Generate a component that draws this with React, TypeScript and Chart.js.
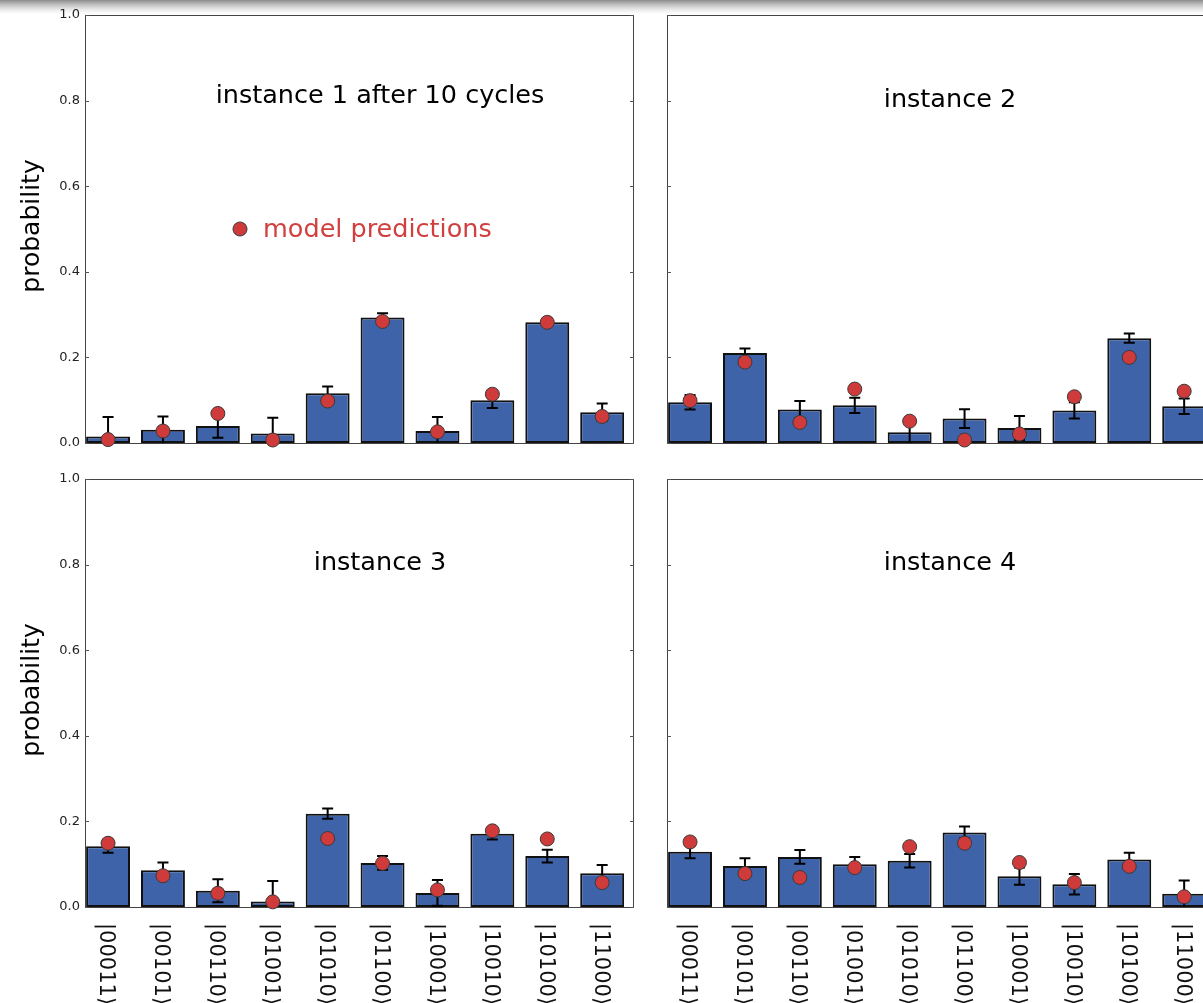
import React, { useEffect, useRef } from 'react';
import { Chart, registerables } from 'chart.js';

Chart.register(...registerables);

// ---------- data ----------
const basisStates = ['|00011⟩', '|00101⟩', '|00110⟩', '|01001⟩', '|01010⟩', '|01100⟩', '|10001⟩', '|10010⟩', '|10100⟩', '|11000⟩'];
const yTickValues = [0, 0.2, 0.4, 0.6, 0.8, 1.0];

const instance1Measured = [0.015, 0.031, 0.040, 0.022, 0.116, 0.293, 0.028, 0.100, 0.282, 0.072];
const instance1Error = [0.046, 0.031, 0.028, 0.037, 0.016, 0.010, 0.033, 0.018, 0.006, 0.020];
const instance1Model = [0.008, 0.028, 0.069, 0.007, 0.098, 0.284, 0.026, 0.114, 0.282, 0.062];

const instance2Measured = [0.095, 0.210, 0.078, 0.088, 0.025, 0.057, 0.035, 0.076, 0.245, 0.086];
const instance2Error = [0.017, 0.011, 0.020, 0.018, 0.025, 0.022, 0.028, 0.019, 0.011, 0.018];
const instance2Model = [0.099, 0.189, 0.048, 0.126, 0.051, 0.007, 0.021, 0.108, 0.200, 0.121];

const instance3Measured = [0.142, 0.086, 0.038, 0.013, 0.218, 0.103, 0.033, 0.171, 0.119, 0.079];
const instance3Error = [0.015, 0.018, 0.027, 0.048, 0.012, 0.016, 0.030, 0.013, 0.015, 0.019];
const instance3Model = [0.149, 0.073, 0.032, 0.012, 0.160, 0.102, 0.040, 0.178, 0.159, 0.057];

const instance4Measured = [0.129, 0.096, 0.117, 0.100, 0.108, 0.174, 0.072, 0.053, 0.111, 0.031];
const instance4Error = [0.015, 0.018, 0.016, 0.017, 0.016, 0.014, 0.020, 0.024, 0.016, 0.031];
const instance4Model = [0.152, 0.078, 0.069, 0.092, 0.141, 0.149, 0.104, 0.057, 0.095, 0.024];

const panelTitles = ['instance 1 after 10 cycles', 'instance 2', 'instance 3', 'instance 4'];
const yAxisTitle = 'probability';
const legendLabel = 'model predictions';

// ---------- styles ----------
const FONT = "'DejaVu Sans', 'Noto Sans', sans-serif";
const BAR_FILL = '#3f63a9';
const BAR_EDGE = '#111111';
const DOT_FILL = '#cf3a3a';
const DOT_EDGE = '#3a3a3a';
const LEGEND_RED = '#d23f3f';
const SPINE = '#444444';

interface PanelSpec {
  title: string;
  measured: number[];
  error: number[];
  model: number[];
  left: number;
  top: number;
  width: number;
  height: number;
  pad: { left: number; top: number; right: number; bottom: number };
  yAxis: boolean;
  xLabels: boolean;
  legend: boolean;
  titleX: number;
  titleY: number;
}

const panels: PanelSpec[] = [
  {
    title: panelTitles[0], measured: instance1Measured, error: instance1Error, model: instance1Model,
    left: 0, top: 0, width: 650, height: 460,
    pad: { left: 0, top: 15, right: 16, bottom: 17 },
    yAxis: true, xLabels: false, legend: true, titleX: 380, titleY: 103,
  },
  {
    title: panelTitles[1], measured: instance2Measured, error: instance2Error, model: instance2Model,
    left: 650, top: 0, width: 600, height: 460,
    pad: { left: 17, top: 15, right: 34, bottom: 17 },
    yAxis: false, xLabels: false, legend: false, titleX: 300, titleY: 107,
  },
  {
    title: panelTitles[2], measured: instance3Measured, error: instance3Error, model: instance3Model,
    left: 0, top: 464, width: 650, height: 539,
    pad: { left: 0, top: 15, right: 16, bottom: 96 },
    yAxis: true, xLabels: true, legend: false, titleX: 380, titleY: 106,
  },
  {
    title: panelTitles[3], measured: instance4Measured, error: instance4Error, model: instance4Model,
    left: 650, top: 464, width: 600, height: 539,
    pad: { left: 17, top: 15, right: 34, bottom: 96 },
    yAxis: false, xLabels: true, legend: false, titleX: 300, titleY: 106,
  },
];

function makePlugin(spec: PanelSpec) {
  return {
    id: 'panelDecor',
    beforeDatasetsDraw(chart: any) {
      const { ctx, chartArea } = chart;
      const y = chart.scales.y;
      ctx.save();
      ctx.strokeStyle = SPINE;
      ctx.lineWidth = 1;
      ctx.strokeRect(chartArea.left + 0.5, chartArea.top + 0.5, chartArea.right - chartArea.left - 1, chartArea.bottom - chartArea.top);
      ctx.strokeStyle = '#555';
      ctx.beginPath();
      yTickValues.forEach((v) => {
        const py = Math.round(y.getPixelForValue(v)) + 0.5;
        ctx.moveTo(chartArea.left, py);
        ctx.lineTo(chartArea.left + 4, py);
        ctx.moveTo(chartArea.right - 4, py);
        ctx.lineTo(chartArea.right, py);
      });
      ctx.stroke();
      ctx.restore();
    },
    afterDatasetDraw(chart: any, args: any) {
      if (args.meta.type !== 'bar') return;
      const { ctx } = chart;
      const xs = chart.scales.x;
      const ys = chart.scales.y;
      ctx.save();
      ctx.strokeStyle = '#000';
      ctx.lineWidth = 2;
      spec.measured.forEach((v, i) => {
        const e = spec.error[i];
        const px = xs.getPixelForValue(i);
        const yt = ys.getPixelForValue(v + e);
        const yb = ys.getPixelForValue(Math.max(0, v - e));
        ctx.beginPath();
        ctx.moveTo(px, yt);
        ctx.lineTo(px, yb);
        ctx.moveTo(px - 5.5, yt);
        ctx.lineTo(px + 5.5, yt);
        if (v - e > 0) {
          ctx.moveTo(px - 5.5, yb);
          ctx.lineTo(px + 5.5, yb);
        }
        ctx.stroke();
      });
      ctx.restore();
    },
    afterDraw(chart: any) {
      const { ctx, chartArea } = chart;
      const xs = chart.scales.x;
      ctx.save();
      // title
      ctx.fillStyle = '#000';
      ctx.font = `25.5px ${FONT}`;
      ctx.textAlign = 'center';
      ctx.textBaseline = 'alphabetic';
      ctx.fillText(spec.title, spec.titleX, spec.titleY);
      // legend
      if (spec.legend) {
        ctx.beginPath();
        ctx.arc(240, 229, 7, 0, Math.PI * 2);
        ctx.fillStyle = DOT_FILL;
        ctx.fill();
        ctx.strokeStyle = DOT_EDGE;
        ctx.lineWidth = 1;
        ctx.stroke();
        ctx.fillStyle = LEGEND_RED;
        ctx.textAlign = 'left';
        ctx.fillText(legendLabel, 263, 237);
      }
      // y title
      if (spec.yAxis) {
        ctx.save();
        ctx.translate(39, (chartArea.top + chartArea.bottom) / 2 - 3);
        ctx.rotate(-Math.PI / 2);
        ctx.fillStyle = '#000';
        ctx.font = `25px ${FONT}`;
        ctx.textAlign = 'center';
        ctx.textBaseline = 'alphabetic';
        ctx.fillText(yAxisTitle, 0, 0);
        ctx.restore();
      }
      // x labels (rotated clockwise)
      if (spec.xLabels) {
        ctx.fillStyle = '#111';
        ctx.font = `21px ${FONT}`;
        basisStates.forEach((lab, i) => {
          const px = xs.getPixelForValue(i);
          ctx.save();
          ctx.translate(px - 7.6, chartArea.bottom + 16);
          ctx.rotate(Math.PI / 2);
          ctx.textAlign = 'left';
          ctx.textBaseline = 'alphabetic';
          ctx.fillText(lab, 0, 0);
          ctx.restore();
        });
      }
      ctx.restore();
    },
  };
}

function Panel({ spec }: { spec: PanelSpec }) {
  const ref = useRef<HTMLCanvasElement | null>(null);
  useEffect(() => {
    if (!ref.current) return;
    const chart = new Chart(ref.current, {
      type: 'bar',
      data: {
        datasets: [
          {
            type: 'bar',
            order: 1,
            data: spec.measured.map((v, i) => ({ x: i, y: v })),
            backgroundColor: BAR_FILL,
            borderColor: BAR_EDGE,
            borderWidth: 2,
            borderSkipped: false,
            categoryPercentage: 0.8,
            barPercentage: 1.0,
          } as any,
          {
            type: 'scatter',
            order: 0,
            data: spec.model.map((v, i) => ({ x: i, y: v })),
            pointRadius: 7,
            pointBackgroundColor: DOT_FILL,
            pointBorderColor: DOT_EDGE,
            pointBorderWidth: 1,
            clip: false,
          } as any,
        ],
      },
      options: {
        responsive: false,
        animation: false,
        events: [],
        layout: { padding: spec.pad },
        plugins: { legend: { display: false }, tooltip: { enabled: false } },
        scales: {
          x: {
            type: 'linear',
            min: -0.42,
            max: 9.58,
            offset: false,
            display: false,
          },
          y: {
            type: 'linear',
            min: 0,
            max: 1,
            display: spec.yAxis,
            afterFit: (s: any) => { if (spec.yAxis) s.width = 85; },
            afterBuildTicks: (s: any) => { s.ticks = yTickValues.map((v) => ({ value: v })); },
            grid: { display: false, drawTicks: false },
            border: { display: false },
            ticks: {
              padding: 5,
              color: '#222',
              font: { family: FONT, size: 13 },
              callback: (v: any) => Number(v).toFixed(1),
            },
          },
        },
      } as any,
      plugins: [makePlugin(spec)],
    });
    return () => chart.destroy();
  }, [spec]);
  return (
    <canvas
      ref={ref}
      width={spec.width}
      height={spec.height}
      style={{ position: 'absolute', left: spec.left, top: spec.top, width: spec.width, height: spec.height }}
    />
  );
}

export default function App() {
  return (
    <div style={{ position: 'fixed', left: 0, top: 0, width: 1203, height: 1003, overflow: 'hidden', background: '#fff' }}>
      <div
        style={{
          position: 'absolute', left: 0, top: 0, width: 1203, height: 14,
          background: 'linear-gradient(to bottom, #8c8c8c 0px, #c4c4c4 5px, #ececec 10px, #ffffff 14px)',
        }}
      />
      {panels.map((p, i) => (
        <Panel key={i} spec={p} />
      ))}
    </div>
  );
}
